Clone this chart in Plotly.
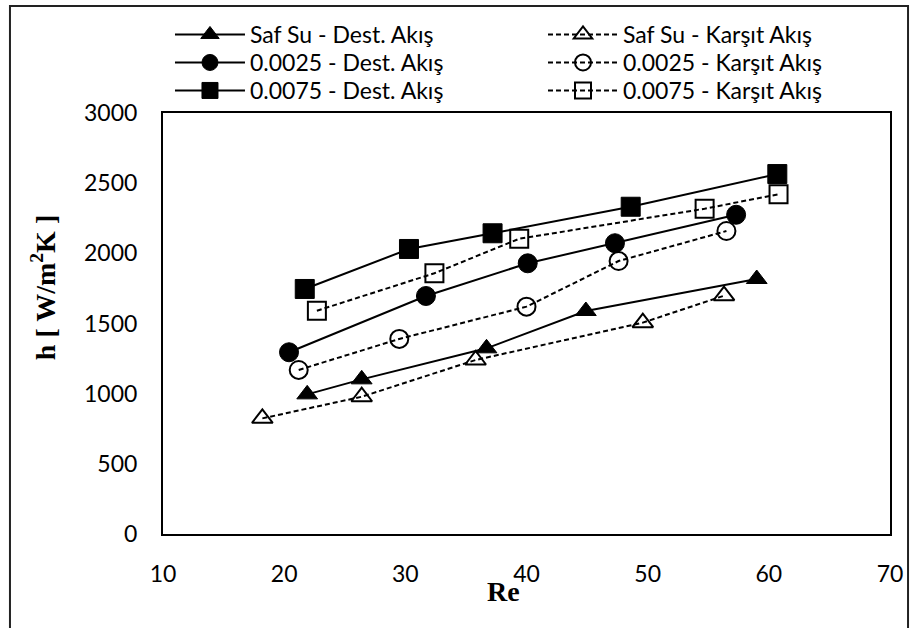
import plotly.graph_objects as go

# Reynolds number and heat transfer coefficient values
re_saf_dest = [21.9, 26.4, 36.7, 44.9, 59.0]
h_saf_dest = [995, 1102, 1323, 1589, 1817]

re_saf_kar = [18.2, 26.4, 35.8, 49.6, 56.3]
h_saf_kar = [824, 978, 1240, 1506, 1698]

re_0025_dest = [20.4, 31.7, 40.1, 47.3, 57.3]
h_0025_dest = [1295, 1696, 1929, 2072, 2275]

re_0025_kar = [21.2, 29.5, 40.0, 47.6, 56.5]
h_0025_kar = [1169, 1390, 1620, 1945, 2159]

re_0075_dest = [21.7, 30.3, 37.2, 48.6, 60.7]
h_0075_dest = [1746, 2031, 2143, 2332, 2565]

re_0075_kar = [22.7, 32.4, 39.4, 54.7, 60.8]
h_0075_kar = [1591, 1858, 2104, 2318, 2421]

names_dest = ["Saf Su - Dest. Akış", "0.0025 - Dest. Akış", "0.0075 - Dest. Akış"]
names_kar = ["Saf Su - Karşıt Akış", "0.0025 - Karşıt Akış", "0.0075 - Karşıt Akış"]

x_ticks = [10, 20, 30, 40, 50, 60, 70]
y_ticks = [0, 500, 1000, 1500, 2000, 2500, 3000]

TXT_FONT = "Lato, 'Open Sans', sans-serif"
SERIF = "'Liberation Serif', 'DejaVu Serif', serif"

fig = go.Figure()

dest_series = [
    (re_saf_dest, h_saf_dest, "triangle-up", 18),
    (re_0025_dest, h_0025_dest, "circle", 19),
    (re_0075_dest, h_0075_dest, "square", 19),
]
kar_series = [
    (re_saf_kar, h_saf_kar, "triangle-up-open", 18),
    (re_0025_kar, h_0025_kar, "circle-open", 18),
    (re_0075_kar, h_0075_kar, "square-open", 18),
]

row_tops = [1.2375, 1.1710, 1.1045]
legend_ids_dest = ["legend", "legend2", "legend3"]
legend_ids_kar = ["legend4", "legend5", "legend6"]

for (x, y, sym, sz), nm, lid in zip(dest_series, names_dest, legend_ids_dest):
    fig.add_trace(go.Scatter(
        x=x, y=y, name=nm, mode="lines+markers",
        line=dict(color="black", width=2),
        marker=dict(symbol=sym, size=sz, color="black", line=dict(color="black", width=1)),
        legend=lid,
    ))

for (x, y, sym, sz), nm, lid in zip(kar_series, names_kar, legend_ids_kar):
    fig.add_trace(go.Scatter(
        x=x, y=y, name=nm, mode="lines+markers",
        line=dict(color="black", width=2, dash="5px,3px"),
        marker=dict(symbol=sym, size=sz, color="black", line=dict(color="black", width=2)),
        legend=lid,
    ))

legend_common = dict(
    font=dict(family=TXT_FONT, size=23, color="black"),
    bgcolor="rgba(0,0,0,0)",
    borderwidth=0,
    orientation="v",
    xanchor="left",
    yanchor="top",
    itemwidth=70,
    tracegroupgap=0,
)

legends = {}
for lid, ytop in zip(legend_ids_dest, row_tops):
    legends[lid] = dict(x=0.0096, y=ytop, **legend_common)
for lid, ytop in zip(legend_ids_kar, row_tops):
    legends[lid] = dict(x=0.5227, y=ytop, **legend_common)

fig.update_layout(
    width=914,
    height=628,
    margin=dict(l=163, r=24, t=113, b=94),
    paper_bgcolor="white",
    plot_bgcolor="white",
    showlegend=True,
    **legends,
    xaxis=dict(
        range=[10, 70],
        tickvals=x_ticks,
        ticktext=[str(v) for v in x_ticks],
        showgrid=False,
        zeroline=False,
        showline=True,
        linecolor="black",
        linewidth=2,
        mirror=True,
        ticks="outside",
        ticklen=0,
        ticklabelstandoff=18,
        tickfont=dict(family=TXT_FONT, size=23, color="black"),
    ),
    yaxis=dict(
        range=[0, 3000],
        tickvals=y_ticks,
        ticktext=[str(v) for v in y_ticks],
        showgrid=False,
        zeroline=False,
        showline=True,
        linecolor="black",
        linewidth=2,
        mirror=True,
        ticks="outside",
        ticklen=0,
        ticklabelstandoff=19,
        tickfont=dict(family=TXT_FONT, size=23, color="black"),
    ),
    annotations=[
        dict(
            text="<b>h [ W/m<sup>2</sup>K ]</b>",
            x=-0.165, y=0.584, xref="paper", yref="paper",
            xanchor="center", yanchor="middle", textangle=-90,
            showarrow=False,
            font=dict(family=SERIF, size=28, color="black"),
        ),
        dict(
            text="<b>Re</b>",
            x=0.468, y=-0.137, xref="paper", yref="paper",
            xanchor="center", yanchor="middle",
            showarrow=False,
            font=dict(family=SERIF, size=28, color="black"),
        ),
    ],
    shapes=[
        dict(
            type="rect", xref="paper", yref="paper",
            x0=-0.2105, x1=1.0248, y0=-0.27, y1=1.254,
            line=dict(color="#222222", width=2),
            fillcolor="rgba(0,0,0,0)",
            layer="below",
        )
    ],
)

fig.write_html("out.html")
